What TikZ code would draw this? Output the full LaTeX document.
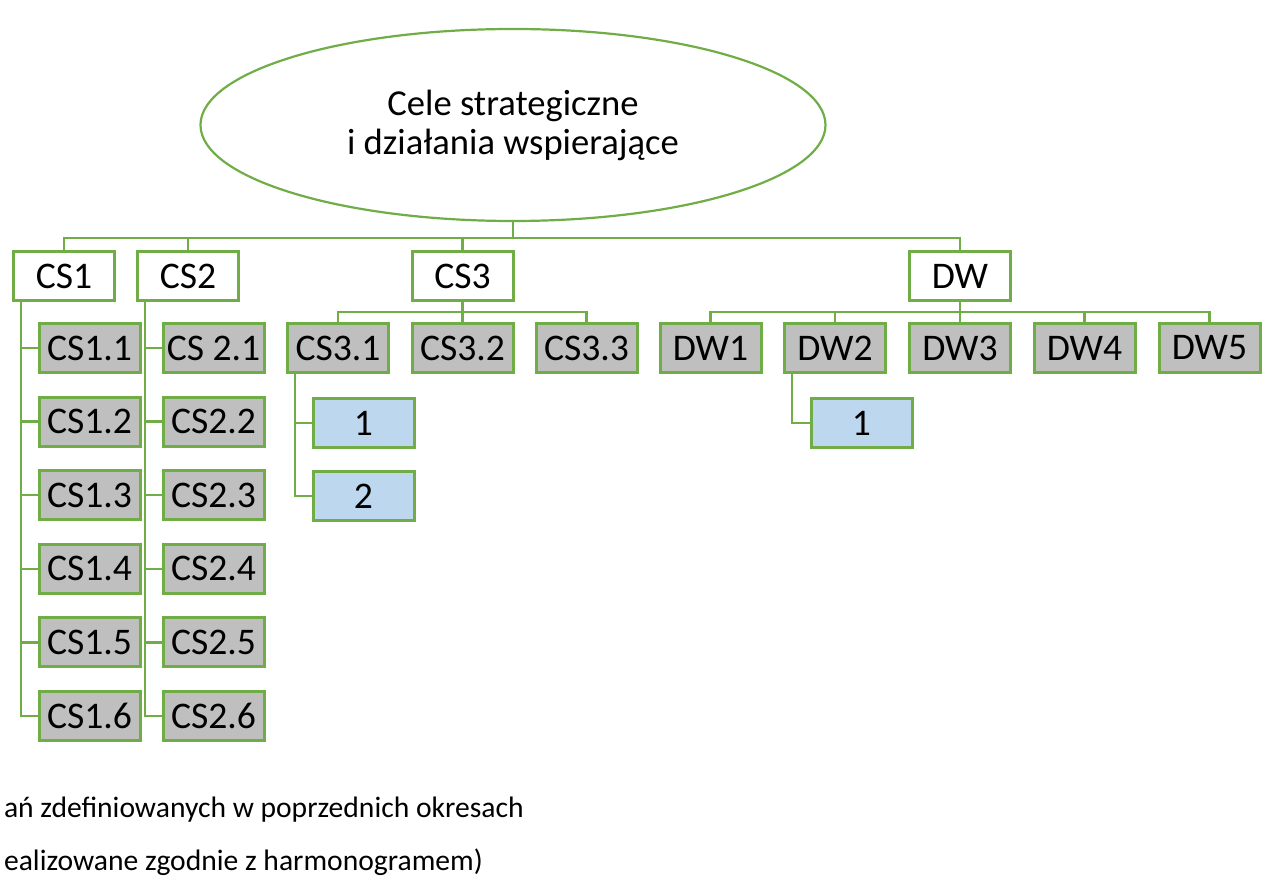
\documentclass[tikz,border=0pt]{standalone}
\usepackage{fontspec}
\setmainfont{Carlito}
\usetikzlibrary{shapes.geometric, positioning}
\definecolor{c1}{HTML}{70AD47}
\definecolor{c2}{HTML}{BFBFBF}
\definecolor{c3}{HTML}{BDD7EE}
\definecolor{c4}{HTML}{000000}

\begin{document}
\begin{tikzpicture}[
    x=0.5pt, y=-0.5pt,
    every node/.style={font=\fontsize{18.8}{19.5}\selectfont, text=c4},
    conn/.style={draw=c1, line width=1.2pt},
    goal/.style={ellipse, draw=c1, line width=1.1pt, fill=white,
                 minimum width=312.5pt, minimum height=96pt, inner sep=0pt,
                 align=center, font=\fontsize{18.3}{19.5}\selectfont},
    head/.style={rectangle, draw=c1, fill=white, line width=1.5pt,
                 minimum width=50.5pt, minimum height=24.5pt, inner sep=0pt},
    sub/.style={head, fill=c2},
    task/.style={head, fill=c3},
    note/.style={font=\fontsize{14.8}{16}\selectfont, anchor=base west},
]
\useasboundingbox (0,0) rectangle (1266,876);
\coordinate (bus) at (0,238);
\coordinate (bus2) at (0,312);

% ---------------- top
\node[goal] (top) at (513,125) {Cele strategiczne\\i działania wspierające};

% ---------------- first level
\node[head] (cs1) at (64,276) {CS1};
\node[head] (cs2) at (188,276) {CS2};
\node[head] (cs3) at (462.5,276) {CS3};
\node[head] (dw) at (960,276) {DW};
\draw[conn] (top.south) -- (top.south |- bus) -| (cs1.north);
\draw[conn] (top.south |- bus) -| (cs2.north);
\draw[conn] (top.south |- bus) -| (cs3.north);
\draw[conn] (top.south |- bus) -| (dw.north);

% ---------------- CS1 and CS2 columns
\foreach \i/\t in {1/CS 2.1,2/CS2.2,3/CS2.3,4/CS2.4,5/CS2.5,6/CS2.6}{
    \pgfmathsetmacro\yy{348 + (\i-1)*73.6}
    \node[sub] (cs1\i) at (89.5,\yy) {CS1.\i};
    \node[sub] (cs2\i) at (213.5,\yy) {\t};
    \draw[conn] ([xshift=4.5pt]cs1.south west) |- (cs1\i.west);
    \draw[conn] ([xshift=4.5pt]cs2.south west) |- (cs2\i.west);
}

% ---------------- CS3
\node[sub] (cs31) at (338,348) {CS3.1};
\node[sub] (cs32) at (462.5,348) {CS3.2};
\node[sub] (cs33) at (586.5,348) {CS3.3};
\foreach \n in {cs31,cs32,cs33}
    \draw[conn] (cs3.south) -- (cs3.south |- bus2) -| (\n.north);
\node[task] (t1) at (363.5,423) {1};
\node[task] (t2) at (363.5,496) {2};
\draw[conn] ([xshift=4.5pt]cs31.south west) |- (t1.west);
\draw[conn] ([xshift=4.5pt]cs31.south west) |- (t2.west);

% ---------------- DW
\foreach \i/\xx in {1/710.5,2/835,3/960,4/1084.5,5/1209.5}{
    \node[sub] (dw\i) at (\xx,348) {DW\i};
    \draw[conn] (dw.south) -- (dw.south |- bus2) -| (dw\i.north);
}
\node[task] (t3) at (861.5,423) {1};
\draw[conn] ([xshift=4.5pt]dw2.south west) |- (t3.west);

% ---------------- notes
\node[note] (n1) at (-3,818) {ań zdefiniowanych w poprzednich okresach};
\node[note] (n2) at (-3,871) {ealizowane zgodnie z harmonogramem)};
\end{tikzpicture}
\end{document}
